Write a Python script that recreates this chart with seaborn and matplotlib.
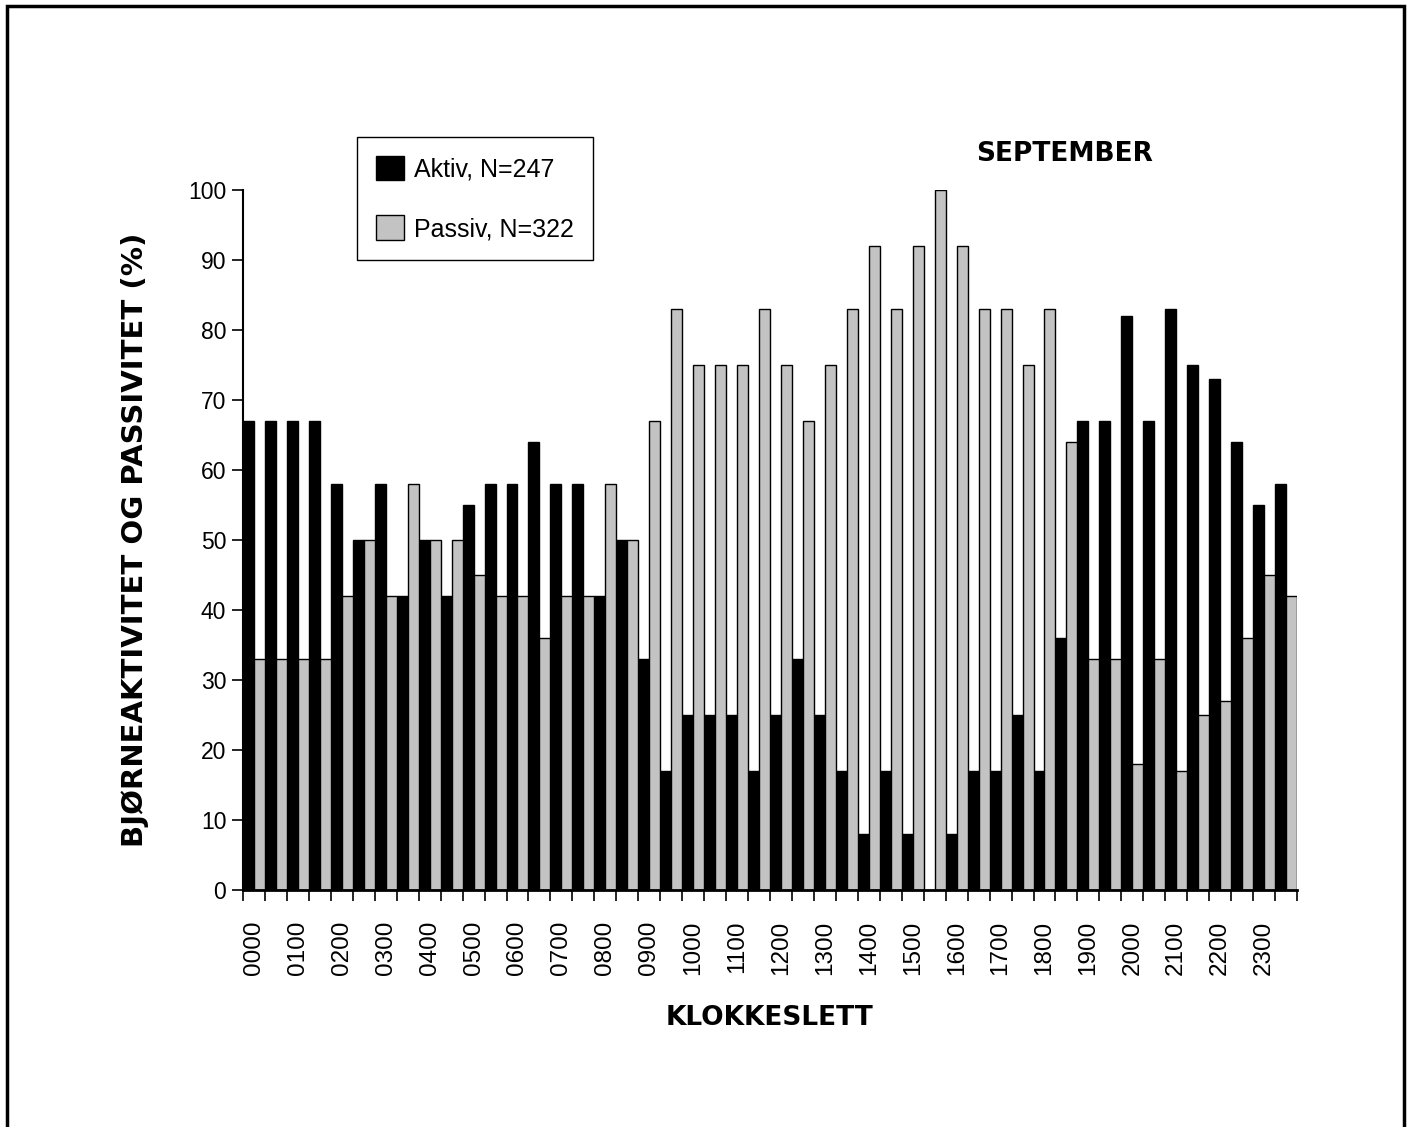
import numpy as np
import pandas as pd
import matplotlib
matplotlib.use('Agg')
import matplotlib.pyplot as plt
import seaborn as sns
from matplotlib.patches import Rectangle

# ---------------- data (halvtimes-intervaller, %) ----------------
hours = ['0000', '0100', '0200', '0300', '0400', '0500', '0600', '0700',
         '0800', '0900', '1000', '1100', '1200', '1300', '1400', '1500',
         '1600', '1700', '1800', '1900', '2000', '2100', '2200', '2300']
slots = [h[:2] + m for h in hours for m in ('00', '30')]

aktiv = [67, 67, 67, 67, 58, 50, 58, 42, 50, 42, 55, 58,
         58, 64, 58, 58, 42, 50, 33, 17, 25, 25, 25, 17,
         25, 33, 25, 17, 8, 17, 8, 0, 8, 17, 17, 25,
         17, 36, 67, 67, 82, 67, 83, 75, 73, 64, 55, 58]
passiv = [33, 33, 33, 33, 42, 50, 42, 58, 50, 50, 45, 42,
          42, 36, 42, 42, 58, 50, 67, 83, 75, 75, 75, 83,
          75, 67, 75, 83, 92, 83, 92, 100, 92, 83, 83, 75,
          83, 64, 33, 33, 18, 33, 17, 25, 27, 36, 45, 42]
series = ['Aktiv, N=247', 'Passiv, N=322']

df = pd.DataFrame({
    'tid': slots * 2,
    'pct': aktiv + passiv,
    'type': [series[0]] * len(slots) + [series[1]] * len(slots),
})

# ---------------- plot ----------------
sns.set_style('ticks')
plt.rcParams['font.family'] = ['Liberation Sans', 'DejaVu Sans']
plt.rcParams['text.color'] = 'black'
plt.rcParams['axes.labelcolor'] = 'black'
plt.rcParams['xtick.color'] = 'black'
plt.rcParams['ytick.color'] = 'black'
plt.rcParams['axes.edgecolor'] = 'black'

fig = plt.figure(figsize=(14.08, 11.27), dpi=100)
ax = fig.add_axes([243 / 1408, 237 / 1127, 1054 / 1408, 700 / 1127])

sns.barplot(data=df, x='tid', y='pct', hue='type', order=slots,
            palette={series[0]: 'black', series[1]: '#c3c3c3'},
            width=1.0, saturation=1, errorbar=None,
            edgecolor='black', linewidth=1, ax=ax)

ax.set_xlim(-0.5, len(slots) - 0.5)
ax.set_ylim(0, 100)
ax.set_yticks(range(0, 101, 10))
ax.tick_params(axis='y', labelsize=16.5, length=8, width=1.2, pad=4)

ax.set_xticks(range(0, len(slots), 2))
ax.set_xticklabels(hours, rotation=90, fontsize=17.5)
ax.set_xticks(np.arange(-0.5, len(slots), 1), minor=True)
ax.tick_params(axis='x', which='major', length=0, pad=22)
ax.tick_params(axis='x', which='minor', length=8, width=1.2, direction='out')

sns.despine(ax=ax)
ax.spines['left'].set_linewidth(1.5)
ax.spines['bottom'].set_linewidth(2)

ax.set_ylabel('BJØRNEAKTIVITET OG PASSIVITET (%)', fontsize=21,
              fontweight='bold', family='DejaVu Sans')
ax.yaxis.set_label_coords(-0.089, 0.5)
ax.set_xlabel('KLOKKESLETT', fontsize=19, fontweight='bold', family='DejaVu Sans')
ax.xaxis.set_label_coords(0.5, -0.164)

ax.text(0.779, 1.052, 'SEPTEMBER', transform=ax.transAxes, ha='center',
        va='center', fontsize=19, fontweight='bold', family='DejaVu Sans')

leg = ax.legend(loc='upper left', bbox_to_anchor=(0.108, 1.076), fontsize=18,
                frameon=True, fancybox=False, handlelength=1.15, handleheight=1.15,
                handletextpad=0.4, labelspacing=1.35, borderpad=0.75,
                borderaxespad=0, title=None)
leg.get_frame().set_edgecolor('black')
leg.get_frame().set_linewidth(1)
leg.get_frame().set_alpha(1)

# ramme rundt hele figuren
fig.patches.append(Rectangle((0.005, -0.01), 0.992, 1.005, transform=fig.transFigure,
                             fill=False, lw=2.5, edgecolor='black'))

fig.savefig('out.png', dpi=100)
